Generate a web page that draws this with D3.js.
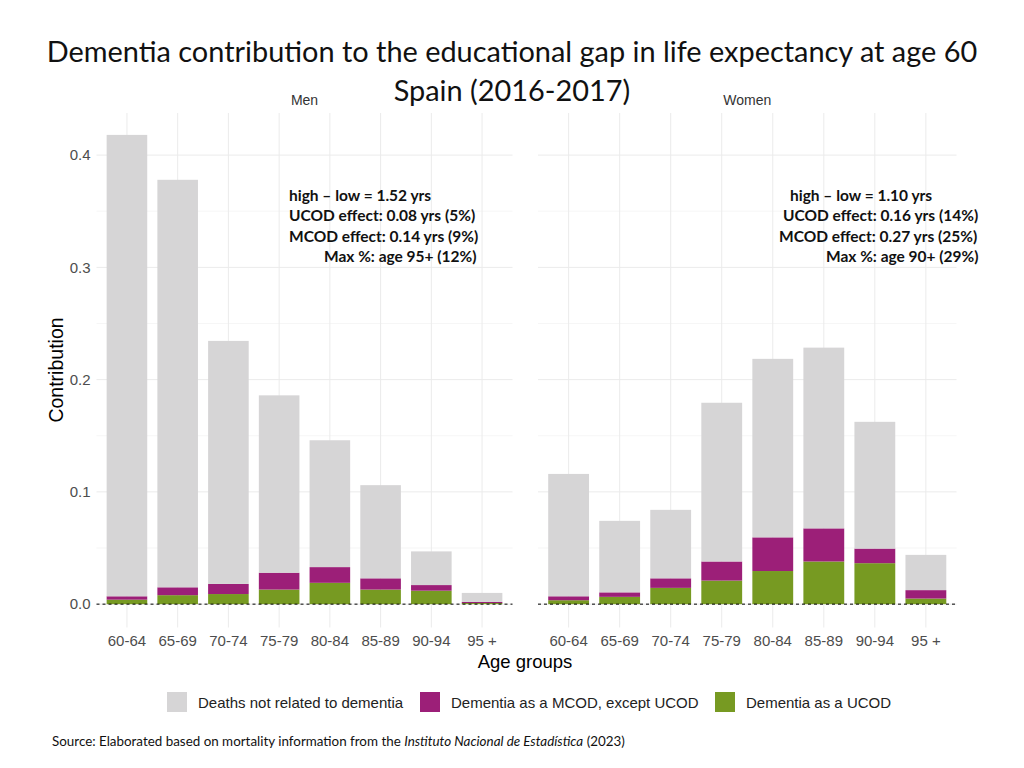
<!DOCTYPE html>
<html>
<head>
<meta charset="utf-8">
<script src="https://cdn.jsdelivr.net/npm/d3@7"></script>
<style>
  html, body { margin: 0; padding: 0; background: #fff; }
  svg { display: block; }
</style>
</head>
<body>
<svg id="chart" width="1024" height="768"></svg>
<script>
// ---------- DATA ----------
const ageGroups = ["60-64", "65-69", "70-74", "75-79", "80-84", "85-89", "90-94", "95 +"];
const panels = ["Men", "Women"];
const seriesNames = ["Dementia as a UCOD", "Dementia as a MCOD, except UCOD", "Deaths not related to dementia"];

const menUCOD   = [0.004, 0.008, 0.009, 0.013, 0.019, 0.013, 0.012, 0.001];
const menMCOD   = [0.003, 0.007, 0.009, 0.015, 0.014, 0.010, 0.005, 0.001];
const menOther  = [0.411, 0.363, 0.2165, 0.158, 0.113, 0.083, 0.030, 0.008];

const womenUCOD  = [0.0035, 0.0065, 0.0145, 0.021, 0.0295, 0.038, 0.0365, 0.005];
const womenMCOD  = [0.0035, 0.004, 0.0085, 0.017, 0.030, 0.0295, 0.013, 0.0075];
const womenOther = [0.109, 0.0637, 0.061, 0.1414, 0.159, 0.161, 0.1129, 0.0314];

const yTicks = [0.0, 0.1, 0.2, 0.3, 0.4];
const yMinor = [0.05, 0.15, 0.25, 0.35];

const menNotes = ["high \u2013 low = 1.52 yrs", "UCOD effect: 0.08 yrs (5%)", "MCOD effect: 0.14 yrs (9%)", "Max %: age 95+ (12%)"];
const womenNotes = ["high \u2013 low = 1.10 yrs", "UCOD effect: 0.16 yrs (14%)", "MCOD effect: 0.27 yrs (25%)", "Max %: age 90+ (29%)"];

const titleLines = ["Dementia contribution to the educational gap in life expectancy at age 60", "Spain (2016-2017)"];
const xTitle = "Age groups";
const yTitle = "Contribution";

// ---------- LAYOUT ----------
const colors = {
  "Dementia as a UCOD": "#779a22",
  "Dementia as a MCOD, except UCOD": "#9c1f78",
  "Deaths not related to dementia": "#d6d5d6"
};
const panelBoxes = [ {x0: 96.5, x1: 512.5}, {x0: 538, x1: 956.5} ];
const plotTop = 113, plotBottom = 627.5;
const noteLayout = [
  { anchor: "start", xs: [289, 289, 289, 324] },
  { anchor: "start", xs: [790, 783, 779, 826] }
];
const noteY = [200.5, 221, 241.5, 262];

const svg = d3.select("#chart");
const y = d3.scaleLinear().domain([-0.0208, 0.4375]).range([plotBottom, plotTop]);

const dataByPanel = [
  ageGroups.map((a, i) => ({ age: a, "Dementia as a UCOD": menUCOD[i], "Dementia as a MCOD, except UCOD": menMCOD[i], "Deaths not related to dementia": menOther[i] })),
  ageGroups.map((a, i) => ({ age: a, "Dementia as a UCOD": womenUCOD[i], "Dementia as a MCOD, except UCOD": womenMCOD[i], "Deaths not related to dementia": womenOther[i] }))
];
const stack = d3.stack().keys(seriesNames);

panels.forEach((p, pi) => {
  const box = panelBoxes[pi];
  const x = d3.scaleBand().domain(ageGroups).range([box.x0, box.x1]).paddingInner(0.2).paddingOuter(0.2);
  const g = svg.append("g");

  g.selectAll(".ymin").data(yMinor).join("line")
    .attr("x1", box.x0).attr("x2", box.x1)
    .attr("y1", d => y(d)).attr("y2", d => y(d))
    .attr("stroke", "#f4f4f4").attr("stroke-width", 0.8);
  g.selectAll(".ymaj").data(yTicks).join("line")
    .attr("x1", box.x0).attr("x2", box.x1)
    .attr("y1", d => y(d)).attr("y2", d => y(d))
    .attr("stroke", "#ebebeb").attr("stroke-width", 1);
  g.selectAll(".xmaj").data(ageGroups).join("line")
    .attr("x1", d => x(d) + x.bandwidth() / 2).attr("x2", d => x(d) + x.bandwidth() / 2)
    .attr("y1", plotTop).attr("y2", plotBottom)
    .attr("stroke", "#ebebeb").attr("stroke-width", 1);

  const series = stack(dataByPanel[pi]);
  series.forEach(s => {
    g.append("g").attr("fill", colors[s.key])
      .selectAll("rect").data(s).join("rect")
      .attr("x", d => x(d.data.age))
      .attr("width", x.bandwidth())
      .attr("y", d => y(d[1]))
      .attr("height", d => Math.max(0, y(d[0]) - y(d[1])));
  });

  g.append("line")
    .attr("x1", box.x0).attr("x2", box.x1)
    .attr("y1", y(0)).attr("y2", y(0))
    .attr("stroke", "#000").attr("stroke-width", 1).attr("stroke-dasharray", "3,3");

  const xAxis = d3.axisBottom(x).tickSize(0).tickPadding(0);
  const xa = g.append("g").attr("transform", `translate(0,${plotBottom + 8})`).call(xAxis);
  xa.select(".domain").remove();
  xa.selectAll("text").attr("font-family", "Liberation Sans, Arial, sans-serif")
    .attr("font-size", 15).attr("fill", "#4d4d4d").attr("dy", "0.71em");

  if (pi === 0) {
    const yAxis = d3.axisLeft(y).tickValues(yTicks).tickFormat(d3.format(".1f")).tickSize(0).tickPadding(0);
    const ya = g.append("g").attr("transform", `translate(${box.x0 - 6},0)`).call(yAxis);
    ya.select(".domain").remove();
    ya.selectAll("text").attr("font-family", "Liberation Sans, Arial, sans-serif")
      .attr("font-size", 15).attr("fill", "#4d4d4d");
  }

  svg.append("text").attr("x", (box.x0 + box.x1) / 2).attr("y", 105)
    .attr("text-anchor", "middle").attr("font-family", "Liberation Sans, Arial, sans-serif")
    .attr("font-size", 14).attr("fill", "#333").text(p);

  const notes = pi === 0 ? menNotes : womenNotes;
  notes.forEach((t, i) => {
    svg.append("text").attr("x", noteLayout[pi].xs[i]).attr("y", noteY[i])
      .attr("text-anchor", noteLayout[pi].anchor)
      .attr("font-family", "Lato, 'Open Sans', sans-serif").attr("font-weight", "bold")
      .attr("font-size", 15.5).attr("fill", "#111").text(t);
  });
});

svg.append("text").attr("x", 525).attr("y", 668).attr("text-anchor", "middle")
  .attr("font-family", "Liberation Sans, Arial, sans-serif").attr("font-size", 18.5).attr("fill", "#000").text(xTitle);
svg.append("text").attr("transform", "translate(63,370) rotate(-90)").attr("text-anchor", "middle")
  .attr("font-family", "Liberation Sans, Arial, sans-serif").attr("font-size", 19.5).attr("fill", "#000").text(yTitle);

titleLines.forEach((t, i) => {
  svg.append("text").attr("x", 512).attr("y", i === 0 ? 62 : 101).attr("text-anchor", "middle")
    .attr("font-family", "Lato, 'Open Sans', sans-serif").attr("font-size", 28.9).attr("fill", "#111").text(t);
});

const legendItems = [
  { key: "Deaths not related to dementia", x: 167 },
  { key: "Dementia as a MCOD, except UCOD", x: 420 },
  { key: "Dementia as a UCOD", x: 715 }
];
legendItems.forEach(it => {
  svg.append("rect").attr("x", it.x).attr("y", 692).attr("width", 20).attr("height", 20).attr("fill", colors[it.key]);
  svg.append("text").attr("x", it.x + 31).attr("y", 708)
    .attr("font-family", "Liberation Sans, Arial, sans-serif").attr("font-size", 15).attr("fill", "#222").text(it.key);
});

const foot = svg.append("text").attr("x", 52).attr("y", 746)
  .attr("font-family", "Lato, 'Open Sans', sans-serif").attr("font-size", 13.4).attr("fill", "#111");
foot.append("tspan").text("Source: Elaborated based on mortality information from the ");
foot.append("tspan").attr("font-style", "italic").text("Instituto Nacional de Estad\u00edstica");
foot.append("tspan").text(" (2023)");
</script>
</body>
</html>
